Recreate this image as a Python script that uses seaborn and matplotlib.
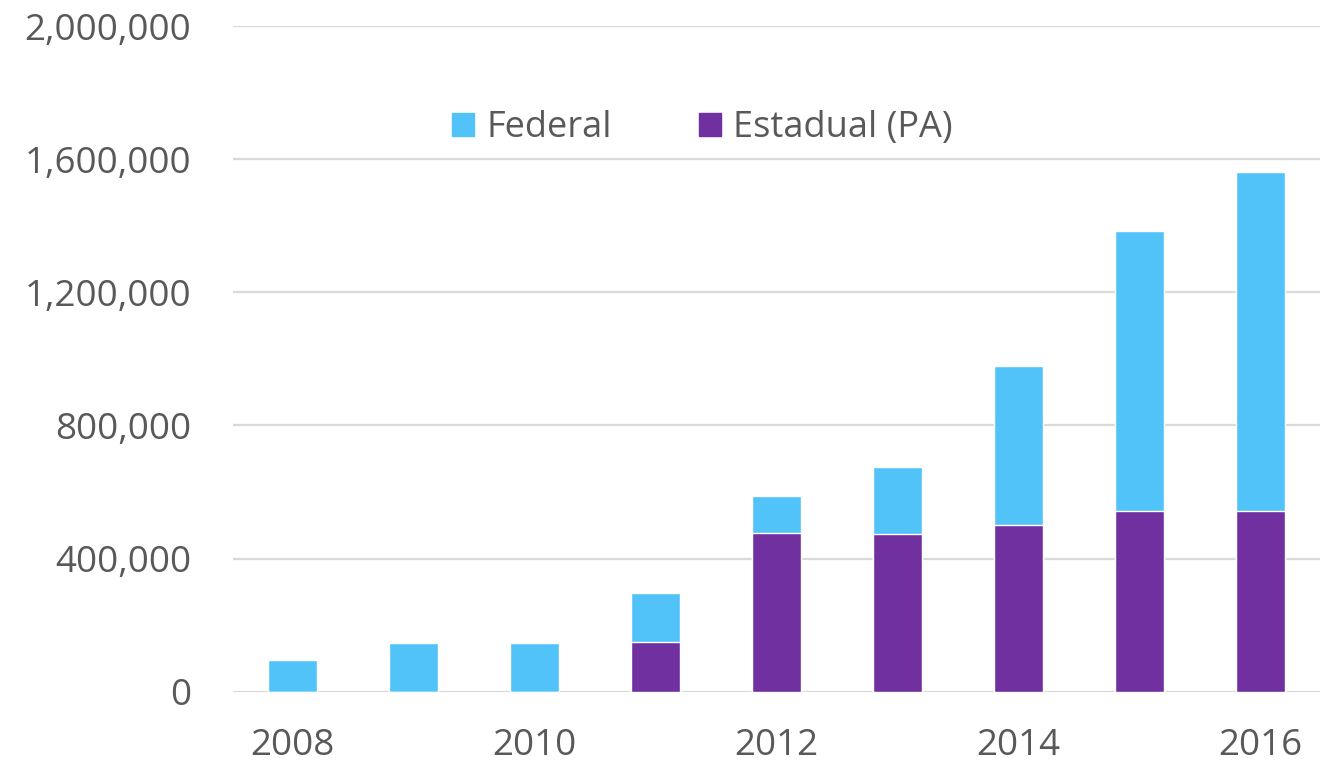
import numpy as np
import matplotlib
matplotlib.use('Agg')
import matplotlib.pyplot as plt
import matplotlib.ticker as mticker
from matplotlib.patches import Patch
import pandas as pd
import seaborn as sns

# dados
anos = ['2008', '2009', '2010', '2011', '2012', '2013', '2014', '2015', '2016']
estadual = [0, 0, 0, 150000, 476000, 474000, 500000, 543000, 543000]
federal = [95000, 145000, 145000, 146000, 113000, 201000, 480000, 841000, 1018000]

df = pd.DataFrame({'ano': anos, 'Estadual (PA)': estadual, 'Federal': federal})
df['total'] = df['Estadual (PA)'] + df['Federal']

cor_federal = '#52C3F8'
cor_estadual = '#70309F'
cinza = '#595959'

sns.set_style('white')
plt.rcParams['font.family'] = ['Open Sans', 'DejaVu Sans']

fig = plt.figure(figsize=(13.32, 7.65), dpi=100)
ax = fig.add_axes([0.175, 0.0958, 0.816, 0.870])

# barras empilhadas: total (azul) por baixo, estadual (roxo) por cima
sns.barplot(data=df, x='ano', y='total', color=cor_federal, width=0.4,
            saturation=1, ax=ax, zorder=2)
sns.barplot(data=df, x='ano', y='Estadual (PA)', color=cor_estadual, width=0.4,
            saturation=1, ax=ax, zorder=3)

ax.set_ylim(0, 2000000)
ax.set_xlim(-0.49, 8.49)
ax.yaxis.set_major_locator(mticker.MultipleLocator(400000))
ax.yaxis.set_major_formatter(mticker.FuncFormatter(lambda v, p: f'{int(v):,}'))
ax.grid(axis='y', color='#D9D9D9', linewidth=1.6, zorder=0)
ax.set_axisbelow(True)

ax.set_xticks(range(0, 9, 2))
ax.set_xticklabels(anos[::2])
ax.tick_params(axis='y', length=0, pad=30, labelsize=26.5, labelcolor=cinza)
ax.tick_params(axis='x', length=0, pad=26, labelsize=26.5, labelcolor=cinza)
ax.set_xlabel('')
ax.set_ylabel('')
sns.despine(ax=ax, left=True, bottom=True)

handles = [Patch(color=cor_federal, label='Federal'),
           Patch(color=cor_estadual, label='Estadual (PA)')]
leg = ax.legend(handles=handles, loc='center', bbox_to_anchor=(0.432, 0.847),
                ncol=2, frameon=False, fontsize=26, handlelength=0.6,
                handleheight=0.6, handletextpad=0.35, columnspacing=2.4)
for t in leg.get_texts():
    t.set_color(cinza)

plt.savefig('out.png', dpi=100)
